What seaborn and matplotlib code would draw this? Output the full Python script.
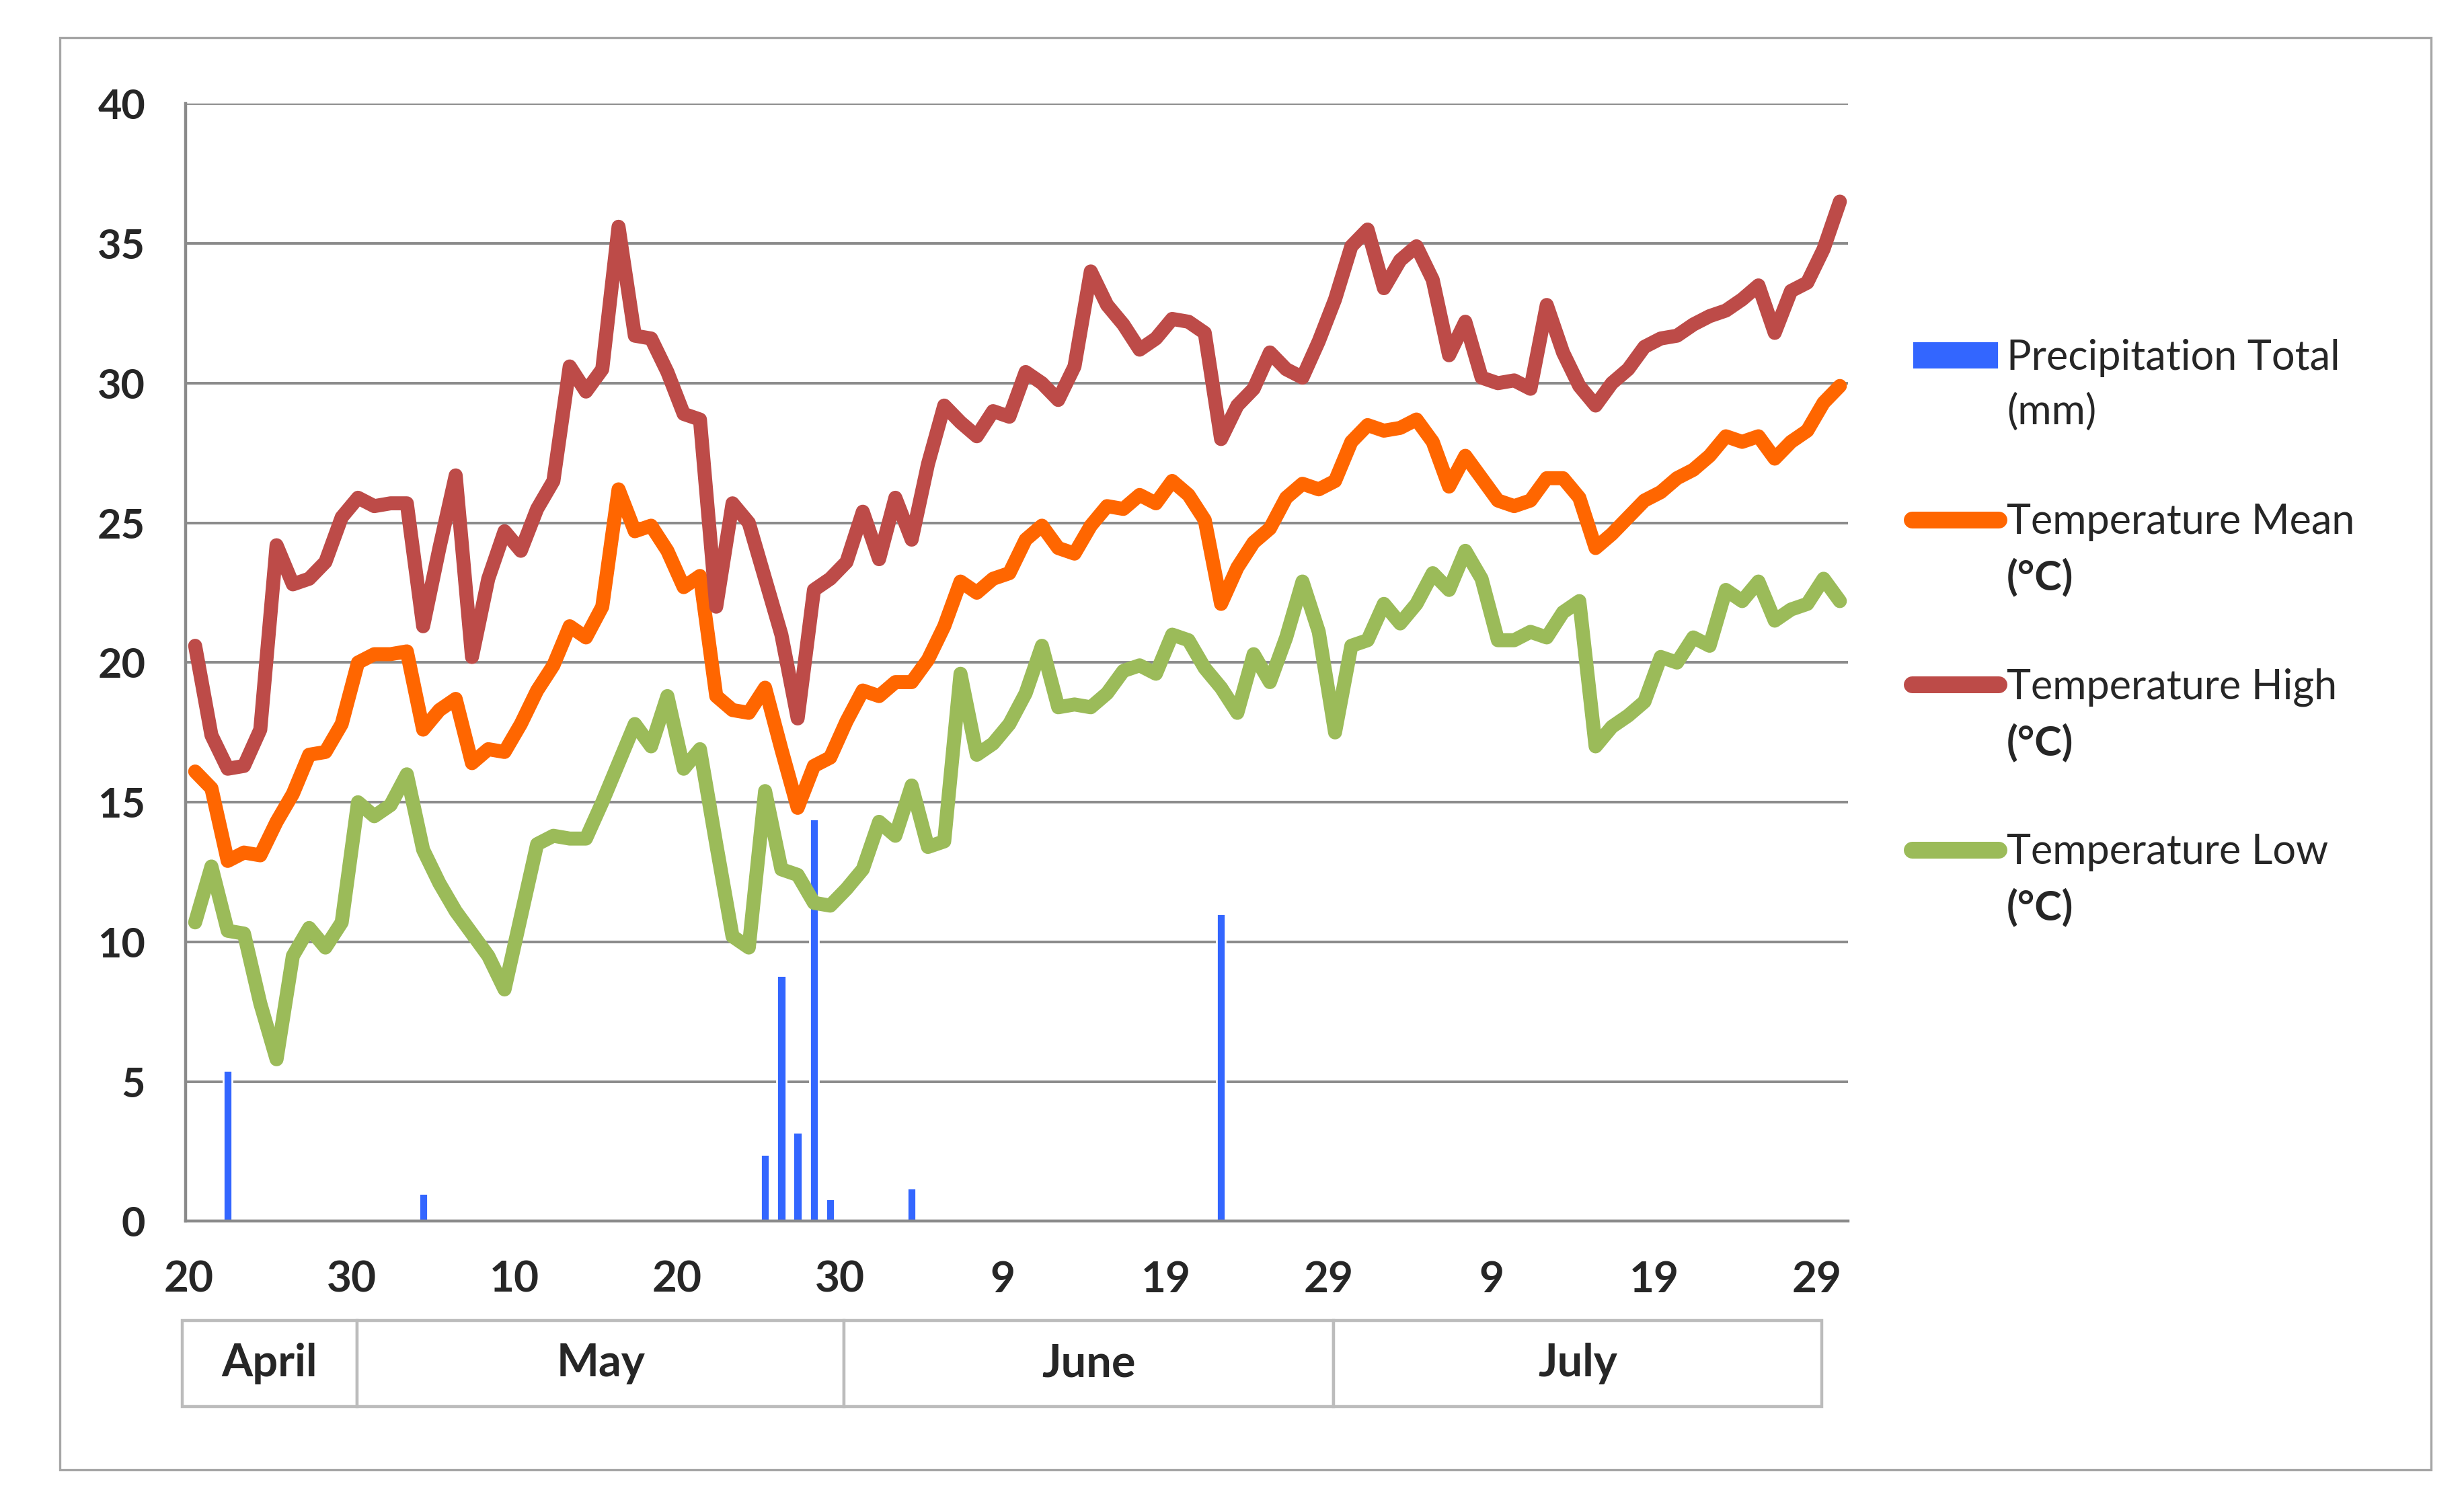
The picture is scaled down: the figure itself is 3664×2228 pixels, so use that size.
import numpy as np
import pandas as pd
import matplotlib.pyplot as plt
import matplotlib.transforms as mtransforms
from matplotlib.patches import Rectangle
from matplotlib.lines import Line2D
import seaborn as sns

# daily values, 20 April to 30 July (102 days)
temp_high = [20.6, 17.4, 16.2, 16.3, 17.6, 24.2, 22.8, 23.0, 23.6, 25.2,
             25.9, 25.6, 25.7, 25.7, 21.3, 24.1, 26.7, 20.2, 23.0, 24.7,
             24.0, 25.5, 26.5, 30.6, 29.7, 30.5, 35.6, 31.7, 31.6, 30.4,
             28.9, 28.7, 22.0, 25.7, 25.0, 23.0, 21.0, 18.0, 22.6, 23.0,
             23.6, 25.4, 23.7, 25.9, 24.4, 27.1, 29.2, 28.6, 28.1, 29.0,
             28.8, 30.4, 30.0, 29.4, 30.6, 34.0, 32.8, 32.1, 31.2, 31.6,
             32.3, 32.2, 31.8, 28.0, 29.2, 29.8, 31.1, 30.5, 30.2, 31.5,
             33.0, 34.9, 35.5, 33.4, 34.4, 34.9, 33.7, 31.0, 32.2, 30.2,
             30.0, 30.1, 29.8, 32.8, 31.1, 29.9, 29.2, 30.0, 30.5, 31.3,
             31.6, 31.7, 32.1, 32.4, 32.6, 33.0, 33.5, 31.8, 33.3, 33.6,
             34.8, 36.5]
temp_mean = [16.1, 15.5, 12.9, 13.2, 13.1, 14.3, 15.3, 16.7, 16.8, 17.8,
             20.0, 20.3, 20.3, 20.4, 17.6, 18.3, 18.7, 16.4, 16.9, 16.8,
             17.8, 19.0, 19.9, 21.3, 20.9, 22.0, 26.2, 24.7, 24.9, 24.0,
             22.7, 23.1, 18.8, 18.3, 18.2, 19.1, 16.9, 14.8, 16.3, 16.6,
             17.9, 19.0, 18.8, 19.3, 19.3, 20.1, 21.3, 22.9, 22.5, 23.0,
             23.2, 24.4, 24.9, 24.1, 23.9, 24.9, 25.6, 25.5, 26.0, 25.7,
             26.5, 26.0, 25.1, 22.1, 23.4, 24.3, 24.8, 25.9, 26.4, 26.2,
             26.5, 27.9, 28.5, 28.3, 28.4, 28.7, 27.9, 26.3, 27.4, 26.6,
             25.8, 25.6, 25.8, 26.6, 26.6, 25.9, 24.1, 24.6, 25.2, 25.8,
             26.1, 26.6, 26.9, 27.4, 28.1, 27.9, 28.1, 27.3, 27.9, 28.3,
             29.3, 29.9]
temp_low = [10.7, 12.7, 10.4, 10.3, 7.8, 5.8, 9.5, 10.5, 9.8, 10.7,
            15.0, 14.5, 14.9, 16.0, 13.3, 12.1, 11.1, 10.3, 9.5, 8.3,
            10.9, 13.5, 13.8, 13.7, 13.7, 15.0, 16.4, 17.8, 17.0, 18.8,
            16.2, 16.9, 13.5, 10.2, 9.8, 15.4, 12.6, 12.4, 11.4, 11.3,
            11.9, 12.6, 14.3, 13.8, 15.6, 13.4, 13.6, 19.6, 16.7, 17.1,
            17.8, 18.9, 20.6, 18.4, 18.5, 18.4, 18.9, 19.7, 19.9, 19.6,
            21.0, 20.8, 19.8, 19.1, 18.2, 20.3, 19.3, 20.9, 22.9, 21.1,
            17.5, 20.6, 20.8, 22.1, 21.4, 22.1, 23.2, 22.6, 24.0, 23.0,
            20.8, 20.8, 21.1, 20.9, 21.8, 22.2, 17.0, 17.7, 18.1, 18.6,
            20.2, 20.0, 20.9, 20.6, 22.6, 22.2, 22.9, 21.5, 21.9, 22.1,
            23.0, 22.2]

# rainy days (days after 20 April) and totals in mm
rain_day = [2, 14, 35, 36, 37, 38, 39, 44, 63]
rain_mm = [5.4, 1.0, 2.4, 8.8, 3.2, 14.4, 0.8, 1.2, 11.0]

tick_labels = ['20', '30', '10', '20', '30', '9', '19', '29', '9', '19', '29']
months = ['April', 'May', 'June', 'July']
box_edges = [-0.4, 10.35, 40.25, 70.3, 100.3]

n = len(temp_high)
df = pd.DataFrame({'day': np.arange(n) + 0.4,
                   'high': temp_high, 'mean': temp_mean, 'low': temp_low})
rain = pd.DataFrame({'day': np.array(rain_day) + 0.4, 'mm': rain_mm})

sns.set_style('white')
plt.rcParams['font.family'] = ['Lato', 'DejaVu Sans']

fig = plt.figure(figsize=(18.32, 11.14), dpi=200)
ax = fig.add_axes([0.0753, 0.1847, 0.6747, 0.746])

c_rain = '#3366ff'
c_mean = '#ff6600'
c_high = '#bd4b48'
c_low = '#9bbb59'
lw = 7.5

ax.bar(rain['day'], rain['mm'], width=0.55, color=c_rain, zorder=2)
line_kw = dict(ax=ax, x='day', lw=lw, solid_capstyle='round',
               solid_joinstyle='round', zorder=3, legend=False)
sns.lineplot(data=df, y='mean', color=c_mean, **line_kw)
sns.lineplot(data=df, y='high', color=c_high, **line_kw)
sns.lineplot(data=df, y='low', color=c_low, **line_kw)

ax.set_xlim(-0.19, 101.9)
ax.set_ylim(0, 40)
ax.set_yticks(range(0, 41, 5))
ax.set_xticks(range(0, 101, 10))
ax.set_xticklabels(tick_labels)
ax.set_xlabel('')
ax.set_ylabel('')

ax.yaxis.grid(True, color='#8a8a8a', lw=1.4, zorder=0)
ax.xaxis.grid(False)
for s in ['top', 'right']:
    ax.spines[s].set_visible(False)
for s in ['left', 'bottom']:
    ax.spines[s].set_color('#8a8a8a')
    ax.spines[s].set_linewidth(1.6)

ax.tick_params(axis='x', direction='out', length=8, width=1.3, color='#8a8a8a',
               pad=13, labelsize=23)
ax.tick_params(axis='y', direction='out', length=7.5, width=1.3, color='#8a8a8a',
               pad=14, labelsize=22)
for t in ax.get_xticklabels() + ax.get_yticklabels():
    t.set_fontweight('bold')

# month boxes under the axis
trans = mtransforms.blended_transform_factory(ax.transData, ax.transAxes)
for m, x0, x1 in zip(months, box_edges[:-1], box_edges[1:]):
    ax.add_patch(Rectangle((x0, -0.166), x1 - x0, 0.0774, transform=trans,
                           facecolor='white', edgecolor='#bcbcbc', lw=1.6,
                           clip_on=False))
    ax.text((x0 + x1) / 2, -0.1275, m, transform=trans, ha='center', va='center',
            fontsize=24, fontweight='bold')

# legend: one row per text line, handles sit on the first line of each entry
blank = Line2D([], [], color='none', lw=0)
h_rain = Rectangle((0, 0), 1, 1, facecolor=c_rain)
h_mean = Line2D([], [], color=c_mean, lw=9, solid_capstyle='round')
h_high = Line2D([], [], color=c_high, lw=9, solid_capstyle='round')
h_low = Line2D([], [], color=c_low, lw=9, solid_capstyle='round')
leg_handles = [h_rain, blank, blank, h_mean, blank, blank, h_high, blank, blank, h_low, blank]
leg_labels = ['Precipitation Total', '(mm)', ' ', 'Temperature Mean', '(°C)', ' ',
              'Temperature High', '(°C)', ' ', 'Temperature Low', '(°C)']
leg = ax.legend(leg_handles, leg_labels, loc='upper left',
                bbox_to_anchor=(0.776, 0.774), bbox_transform=fig.transFigure,
                frameon=False, fontsize=22, handlelength=2.1, handleheight=0.68,
                handletextpad=0.2, labelspacing=0.4, borderpad=0, borderaxespad=0)
for t in leg.get_texts():
    if t.get_text() == '(°C)':
        t.set_fontweight('bold')

# outer frame
fig.add_artist(Rectangle((0.0242, 0.0189), 0.9624, 0.9559, transform=fig.transFigure,
                         fill=False, edgecolor='#a6a6a6', lw=1.2))

fig.savefig('out.png', dpi=200, facecolor='white')
